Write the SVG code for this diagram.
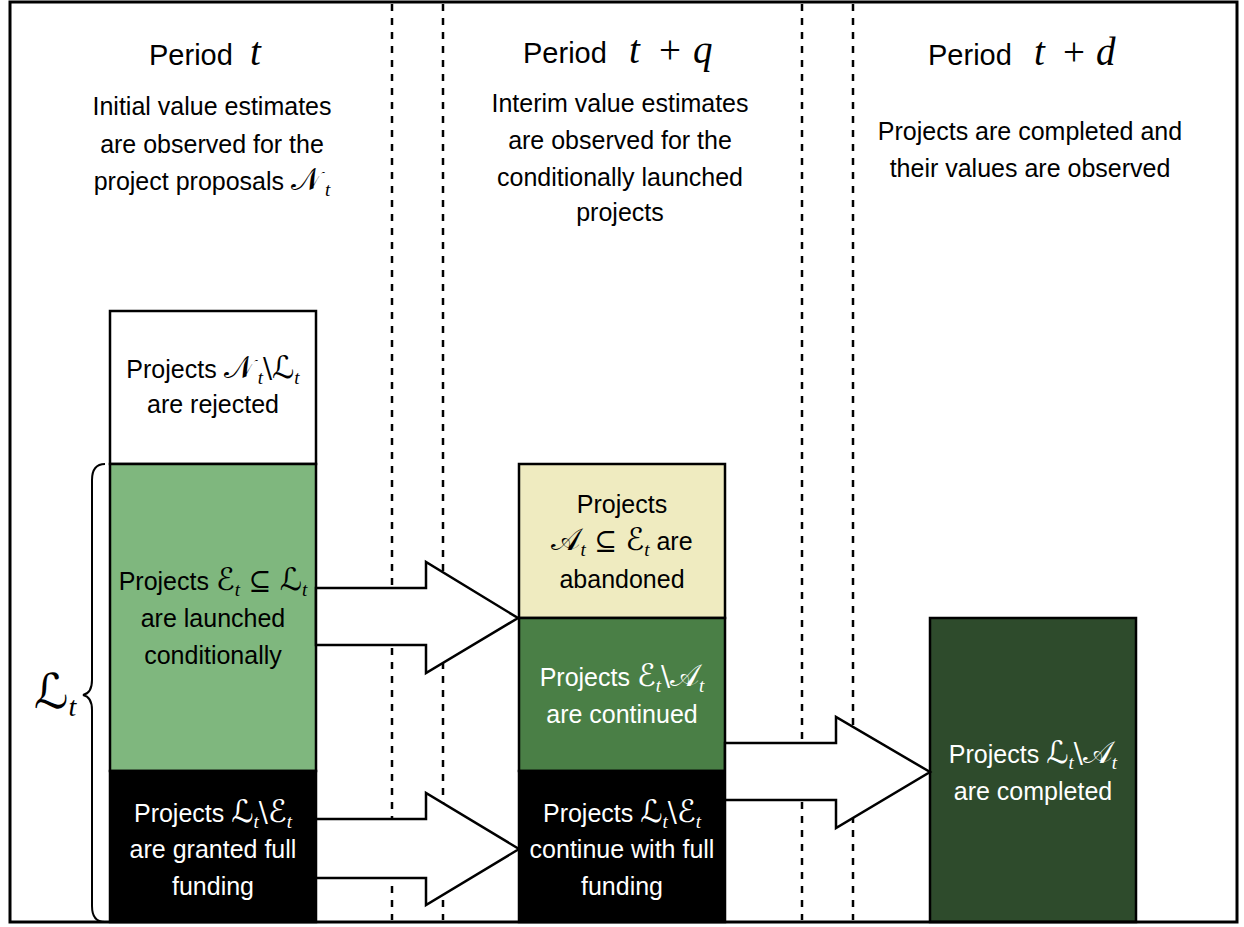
<svg xmlns="http://www.w3.org/2000/svg" width="1244" height="927" viewBox="0 0 1244 927">
<style>
.txt{font-family:"Liberation Sans",Arial,sans-serif;font-size:25px;fill:#000;text-anchor:middle}
.ttl{font-family:"Liberation Sans",Arial,sans-serif;font-size:29px;fill:#000}
.w{fill:#fff}
.m{font-family:"Liberation Serif","DejaVu Serif",serif;font-style:italic;font-size:39px}
.pl{font-family:"Liberation Serif","DejaVu Serif",serif;font-style:normal;font-size:39px}
.cal{font-family:"DejaVu Sans","DejaVu Serif",sans-serif;font-style:normal;font-size:31px}
.rm{font-family:"DejaVu Serif","Liberation Serif",serif;font-style:normal;font-size:27px}
.sub{font-family:"Liberation Serif","DejaVu Serif",serif;font-style:italic;font-size:19px}
.box{stroke:#000;stroke-width:2.5}
.dash{stroke:#000;stroke-width:2.5;stroke-dasharray:7 7;fill:none}
.arrow{fill:#fff;stroke:#000;stroke-width:2.5;stroke-linejoin:miter}
</style>
<rect x="0" y="0" width="1244" height="927" fill="#fff"/>
<g id="separators">
<line class="dash" x1="392" y1="4" x2="392" y2="920"/>
<line class="dash" x1="443" y1="4" x2="443" y2="920"/>
<line class="dash" x1="802" y1="4" x2="802" y2="920"/>
<line class="dash" x1="853" y1="4" x2="853" y2="920"/>
</g>
<g id="header-t">
<text class="ttl" x="149" y="65">Period</text>
<text class="m" x="250" y="65">t</text>
<text class="txt" x="212" y="115">Initial value estimates</text>
<text class="txt" x="212" y="153">are observed for the</text>
<text class="txt" x="212" y="190">project proposals <tspan class="cal">𝒩</tspan><tspan class="sub" dx="4" dy="6">t</tspan></text>
</g>
<g id="header-tq">
<text class="ttl" x="523" y="63">Period</text>
<text class="m" x="629" y="63">t</text>
<text class="pl" x="659" y="63">+</text>
<text class="m" x="693" y="63">q</text>
<text class="txt" x="620" y="112">Interim value estimates</text>
<text class="txt" x="620" y="149">are observed for the</text>
<text class="txt" x="620" y="186">conditionally launched</text>
<text class="txt" x="620" y="221">projects</text>
</g>
<g id="header-td">
<text class="ttl" x="928" y="65">Period</text>
<text class="m" x="1034" y="65">t</text>
<text class="pl" x="1063" y="65">+</text>
<text class="m" x="1096" y="65">d</text>
<text class="txt" x="1030" y="140">Projects are completed and</text>
<text class="txt" x="1030" y="177">their values are observed</text>
</g>
<g id="rejected">
<rect class="box" x="110" y="311" width="206" height="153" fill="#fff"/>
<text class="txt" x="213" y="378">Projects <tspan class="cal">𝒩</tspan><tspan class="sub" dx="4" dy="6">t</tspan><tspan class="rm" dy="-6">\</tspan><tspan class="cal">ℒ</tspan><tspan class="sub" dy="6">t</tspan></text>
<text class="txt" x="213" y="413">are rejected</text>
</g>
<g id="launched">
<rect class="box" x="110" y="464" width="206" height="307" fill="#7fb77e"/>
<text class="txt" x="213" y="590">Projects <tspan class="cal">ℰ</tspan><tspan class="sub" dy="6">t</tspan><tspan class="rm" dy="-6"> ⊆ </tspan><tspan class="cal">ℒ</tspan><tspan class="sub" dy="6">t</tspan></text>
<text class="txt" x="213" y="627">are launched</text>
<text class="txt" x="213" y="664">conditionally</text>
</g>
<g id="full-funding">
<rect class="box" x="110" y="771" width="206" height="151" fill="#000"/>
<text class="txt w" x="213" y="822">Projects <tspan class="cal">ℒ</tspan><tspan class="sub" dy="6">t</tspan><tspan class="rm" dy="-6">\</tspan><tspan class="cal">ℰ</tspan><tspan class="sub" dy="6">t</tspan></text>
<text class="txt w" x="213" y="858">are granted full</text>
<text class="txt w" x="213" y="895">funding</text>
</g>
<g id="abandoned">
<rect class="box" x="519" y="464" width="206" height="154" fill="#efebc0"/>
<text class="txt" x="622" y="513">Projects</text>
<text class="txt" x="622" y="550"><tspan class="cal">𝒜</tspan><tspan class="sub" dy="6">t</tspan><tspan class="rm" dy="-6"> ⊆ </tspan><tspan class="cal">ℰ</tspan><tspan class="sub" dy="6">t</tspan><tspan dy="-6"> are</tspan></text>
<text class="txt" x="622" y="588">abandoned</text>
</g>
<g id="continued">
<rect class="box" x="519" y="618" width="206" height="153" fill="#4a7f46"/>
<text class="txt w" x="622" y="686">Projects <tspan class="cal">ℰ</tspan><tspan class="sub" dy="6">t</tspan><tspan class="rm" dy="-6">\</tspan><tspan class="cal">𝒜</tspan><tspan class="sub" dy="6">t</tspan></text>
<text class="txt w" x="622" y="723">are continued</text>
</g>
<g id="continue-full">
<rect class="box" x="519" y="771" width="206" height="151" fill="#000"/>
<text class="txt w" x="622" y="822">Projects <tspan class="cal">ℒ</tspan><tspan class="sub" dy="6">t</tspan><tspan class="rm" dy="-6">\</tspan><tspan class="cal">ℰ</tspan><tspan class="sub" dy="6">t</tspan></text>
<text class="txt w" x="622" y="858">continue with full</text>
<text class="txt w" x="622" y="895">funding</text>
</g>
<g id="completed">
<rect class="box" x="930" y="618" width="206" height="304" fill="#2e4b2c"/>
<text class="txt w" x="1033" y="763">Projects <tspan class="cal">ℒ</tspan><tspan class="sub" dy="6">t</tspan><tspan class="rm" dy="-6">\</tspan><tspan class="cal">𝒜</tspan><tspan class="sub" dy="6">t</tspan></text>
<text class="txt w" x="1033" y="800">are completed</text>
</g>
<g id="connectors">
<polygon class="arrow" points="316,588 426,588 426,562 518,618 426,673 426,645 316,645"/>
<polygon class="arrow" points="316,819 426,819 426,793 519,849 426,905 426,878 316,878"/>
<polygon class="arrow" points="725,743 836,743 836,717 930,772 836,828 836,800 725,800"/>
</g>
<g id="brace">
<path d="M105 464 Q92 464 92 480 L92 680 Q92 693 83 695 Q92 697 92 710 L92 906 Q92 922 105 922" fill="none" stroke="#000" stroke-width="2"/>
<text x="34" y="708" class="cal" style="font-size:48px">ℒ<tspan class="sub" style="font-size:28px" dy="8">t</tspan></text>
</g>
<rect x="10" y="2" width="1227" height="920" fill="none" stroke="#000" stroke-width="3"/>
</svg>
